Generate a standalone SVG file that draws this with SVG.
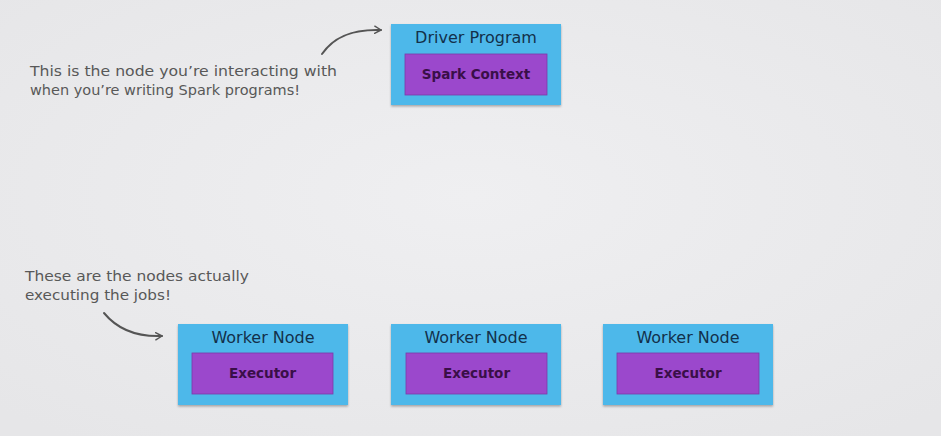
<svg xmlns="http://www.w3.org/2000/svg" width="941" height="436" viewBox="0 0 941 436">
<defs>
<radialGradient id="bg" cx="0.5" cy="0.45" r="0.7">
<stop offset="0" stop-color="#efeff1"/>
<stop offset="1" stop-color="#e6e6e8"/>
</radialGradient>
<filter id="sh" x="-10%" y="-10%" width="120%" height="130%">
<feDropShadow dx="0" dy="1.5" stdDeviation="1.2" flood-color="#000" flood-opacity="0.3"/>
</filter>
<marker id="ah" viewBox="0 0 10 10" refX="8" refY="5" markerWidth="9" markerHeight="9" orient="auto" markerUnits="userSpaceOnUse">
<path d="M1,1 L8,5 L1,9" fill="none" stroke="#555" stroke-width="1.6" stroke-linecap="round" stroke-linejoin="round"/>
</marker>
</defs>
<style>
.outer{fill:#4db8ea;filter:url(#sh)}
.inner{fill:#9b48cc;stroke:#7a3aa8;stroke-width:0.8}
.title{font-family:"DejaVu Sans","Liberation Sans",sans-serif;font-size:16px;fill:#13304a;text-anchor:middle}
.sub{font-family:"DejaVu Sans","Liberation Sans",sans-serif;font-size:13.5px;font-weight:bold;fill:#3a0f48;text-anchor:middle}
.note{font-family:"DejaVu Sans","Liberation Sans",sans-serif;font-size:14.5px;fill:#585858}
.conn{fill:none;stroke:#555;stroke-width:2;stroke-linecap:round}
</style>
<rect width="941" height="436" fill="url(#bg)"/>
<g id="note-driver">
<text class="note" x="30" y="76" textLength="307" lengthAdjust="spacingAndGlyphs">This is the node you’re interacting with</text>
<text class="note" x="30" y="95" textLength="270" lengthAdjust="spacingAndGlyphs">when you’re writing Spark programs!</text>
</g>
<g id="note-workers">
<text class="note" x="25" y="281" textLength="224" lengthAdjust="spacingAndGlyphs">These are the nodes actually</text>
<text class="note" x="25" y="300" textLength="146" lengthAdjust="spacingAndGlyphs">executing the jobs!</text>
</g>
<g id="driver">
<rect class="outer" x="391" y="24" width="170" height="81"/>
<text class="title" x="476" y="43">Driver Program</text>
<rect class="inner" x="405" y="54" width="142" height="41"/>
<text class="sub" x="476" y="79">Spark Context</text>
</g>
<g id="worker1">
<rect class="outer" x="178" y="324" width="170" height="81"/>
<text class="title" x="263" y="343">Worker Node</text>
<rect class="inner" x="192" y="353" width="141" height="41"/>
<text class="sub" x="262.5" y="378">Executor</text>
</g>
<g id="worker2">
<rect class="outer" x="391" y="324" width="170" height="81"/>
<text class="title" x="476" y="343">Worker Node</text>
<rect class="inner" x="406" y="353" width="141" height="41"/>
<text class="sub" x="476.5" y="378">Executor</text>
</g>
<g id="worker3">
<rect class="outer" x="603" y="324" width="170" height="81"/>
<text class="title" x="688" y="343">Worker Node</text>
<rect class="inner" x="617" y="353" width="142" height="41"/>
<text class="sub" x="688" y="378">Executor</text>
</g>
<g id="connectors">
<path class="conn" d="M322,54 C335,35 355,29 381,30" marker-end="url(#ah)"/>
<path class="conn" d="M104,313 C118,330 138,337 162,336" marker-end="url(#ah)"/>
</g>
</svg>
